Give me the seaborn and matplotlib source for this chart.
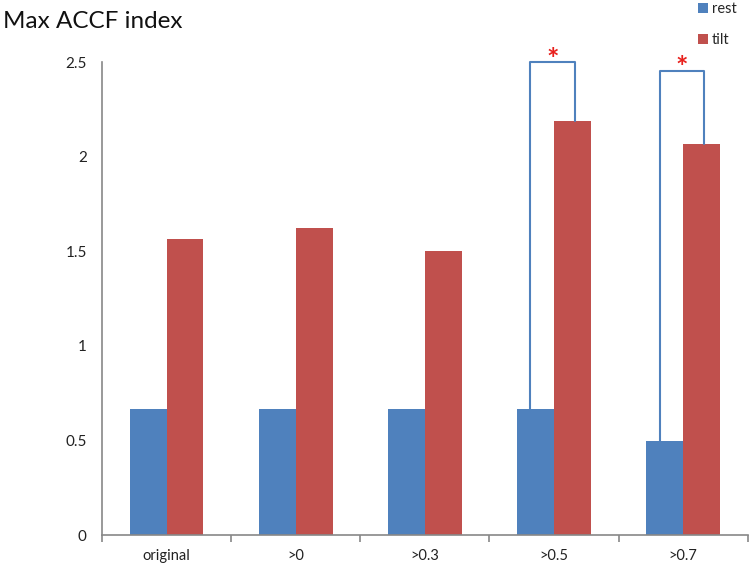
import pandas as pd
import matplotlib
matplotlib.use("Agg")
import matplotlib.pyplot as plt
import seaborn as sns
from matplotlib.patches import Patch
from matplotlib.ticker import FixedLocator

# Data
categories = ["original", ">0", ">0.3", ">0.5", ">0.7"]
rest_values = [0.667, 0.667, 0.667, 0.667, 0.5]
tilt_values = [1.565, 1.625, 1.5, 2.19, 2.07]
groups = ["rest", "tilt"]
colors = ["#4F81BD", "#C0504D"]

# significance brackets: (category index, bracket top)
sig_pairs = [(3, 2.5), (4, 2.455)]

df = pd.DataFrame({
    "condition": categories * 2,
    "value": rest_values + tilt_values,
    "group": ["rest"] * len(categories) + ["tilt"] * len(categories),
})

sns.set_style("white")
plt.rcParams["font.family"] = ["Lato", "DejaVu Sans"]

fig = plt.figure(figsize=(7.5, 5.7), dpi=100)
ax = fig.add_axes([0.136, 0.061, 0.861, 0.830])

sns.barplot(data=df, x="condition", y="value", hue="group", order=categories,
            hue_order=groups, palette=colors, width=0.57, gap=0,
            saturation=1, legend=False, linewidth=0, ax=ax)

ax.set_xlim(-0.5, len(categories) - 0.5)
ax.set_ylim(0, 2.5)
ax.set_yticks([0, 0.5, 1, 1.5, 2, 2.5])
ax.set_yticklabels(["0", "0.5", "1", "1.5", "2", "2.5"])
ax.set_xlabel("")
ax.set_ylabel("")

# Excel-like axes: ticks between categories, gray spines
for side in ["top", "right"]:
    ax.spines[side].set_visible(False)
for side in ["left", "bottom"]:
    ax.spines[side].set_color("#888888")
    ax.spines[side].set_linewidth(1.2)
ax.xaxis.set_minor_locator(FixedLocator([i + 0.5 for i in range(-1, len(categories))]))
ax.tick_params(axis="x", which="major", length=0, pad=10, labelsize=10.5, colors="#222222")
ax.tick_params(axis="x", which="minor", bottom=True, length=5, direction="out",
               color="#888888", width=1.2)
ax.tick_params(axis="y", which="major", length=5, direction="out", color="#888888",
               width=1.2, labelsize=11, colors="#222222", pad=6)

# bracket lines with asterisks
half = 0.57 / 2
for idx, top in sig_pairs:
    rest_top = rest_values[idx]
    tilt_top = tilt_values[idx]
    xl = idx - half / 2 - 0.04
    xr = idx + half / 2 + 0.02
    ax.plot([xl, xl, xr, xr], [rest_top, top, top, tilt_top],
            color="#4F81BD", lw=1.5, clip_on=False, zorder=3)
    ax.text((xl + xr) / 2, top - 0.03, "*", color="#E8201C", fontsize=21,
            fontweight="bold", ha="center", va="baseline", clip_on=False)

fig.text(0.004, 0.962, "Max ACCF index", fontsize=17.5, ha="left", va="center", color="#111111")

handles = [Patch(facecolor=c, edgecolor="none") for c in colors]
fig.legend(handles, groups, loc="upper right", bbox_to_anchor=(1.0, 1.02),
           frameon=False, fontsize=10.5, handlelength=0.7, handleheight=0.7,
           handletextpad=0.3, labelspacing=1.2)

fig.savefig("out.png", dpi=100)
